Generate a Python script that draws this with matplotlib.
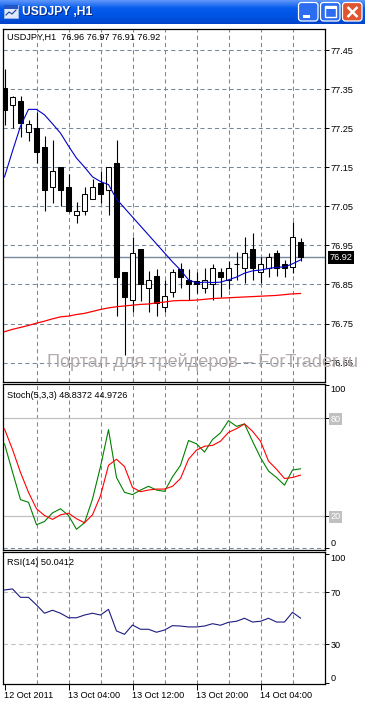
import numpy as np
import matplotlib.pyplot as plt
from matplotlib.patches import Rectangle, FancyBboxPatch

plt.rcParams['font.family'] = ['Liberation Sans', 'DejaVu Sans']

window_title = "USDJPY ,H1"
main_title = "USDJPY,H1  76.96 76.97 76.91 76.92"
stoch_title = "Stoch(5,3,3) 48.8372 44.9726"
rsi_title = "RSI(14) 50.0412"
watermark = "Портал для трейдеров – ForTrader.ru"

# hourly candles, 12 Oct 20:00 .. 14 Oct 09:00
opens = [77.353, 77.309, 77.320, 77.241, 77.250, 77.202, 77.099, 77.150, 77.099, 77.029,
         77.039, 77.069, 77.110, 77.092, 77.161, 76.881, 76.810, 76.940, 76.840, 76.872,
         76.792, 76.830, 76.891, 76.862, 76.860, 76.840, 76.851, 76.881, 76.862, 76.902,
         76.892, 76.940, 76.882, 76.892, 76.932, 76.902, 76.894, 76.96]
highs = [77.402, 77.332, 77.332, 77.272, 77.293, 77.231, 77.221, 77.150, 77.132, 77.062,
         77.101, 77.121, 77.142, 77.150, 77.221, 76.881, 76.971, 76.940, 76.885, 76.891,
         76.862, 76.891, 76.904, 76.891, 76.881, 76.892, 76.902, 76.892, 76.911, 76.934,
         76.971, 76.983, 76.921, 76.932, 76.938, 76.913, 77.011, 76.97]
lows = [77.259, 77.250, 77.229, 77.219, 77.161, 77.039, 77.060, 77.050, 77.037, 77.008,
        77.028, 77.069, 77.058, 77.028, 76.769, 76.669, 76.780, 76.808, 76.780, 76.769,
        76.780, 76.819, 76.840, 76.810, 76.827, 76.827, 76.810, 76.819, 76.838, 76.862,
        76.853, 76.862, 76.853, 76.870, 76.872, 76.870, 76.880, 76.91]
closes = [77.297, 77.330, 77.263, 77.261, 77.190, 77.091, 77.140, 77.091, 77.039, 77.039,
          77.081, 77.099, 77.081, 77.150, 76.870, 76.819, 76.930, 76.850, 76.862, 76.802,
          76.820, 76.882, 76.870, 76.850, 76.851, 76.862, 76.892, 76.870, 76.892, 76.902,
          76.930, 76.892, 76.902, 76.920, 76.892, 76.892, 76.971, 76.92]

ma_fast = [77.126, 77.192, 77.256, 77.299, 77.299, 77.285, 77.262, 77.238, 77.205, 77.174,
           77.151, 77.126, 77.114, 77.106, 77.069, 77.046, 77.023, 77.000, 76.977, 76.954,
           76.931, 76.908, 76.887, 76.862, 76.854, 76.856, 76.855, 76.856, 76.862, 76.869,
           76.879, 76.885, 76.887, 76.891, 76.894, 76.895, 76.903, 76.913]
ma_slow = [76.729, 76.735, 76.740, 76.745, 76.751, 76.756, 76.762, 76.767, 76.769, 76.773,
           76.776, 76.781, 76.786, 76.790, 76.793, 76.795, 76.797, 76.799, 76.800, 76.803,
           76.805, 76.808, 76.809, 76.809, 76.810, 76.812, 76.814, 76.815, 76.816, 76.817,
           76.818, 76.819, 76.820, 76.821, 76.822, 76.824, 76.826, 76.827]

stoch_main = [64.2, 46.9, 29.9, 28.3, 14.5, 16.5, 21.8, 24.3, 20.2, 11.7,
              15.7, 30.3, 50.2, 72.9, 43.5, 34.4, 33.0, 35.8, 38.1, 35.8,
              35.0, 43.9, 51.0, 66.2, 64.2, 59.1, 66.8, 70.9, 78.4, 74.9,
              76.4, 65.8, 55.7, 47.5, 43.5, 38.8, 48.1, 48.8372]
stoch_signal = [73.3, 60.7, 46.6, 34.4, 24.3, 20.2, 17.8, 20.6, 21.6, 18.2,
                15.7, 20.6, 32.3, 51.0, 54.7, 50.2, 37.4, 34.8, 35.8, 36.4,
                36.4, 38.1, 42.9, 54.7, 60.3, 62.7, 63.2, 65.8, 71.2, 73.5,
                76.4, 71.9, 65.8, 53.6, 48.6, 42.9, 43.5, 44.9726]
rsi = [71.8, 72.6, 66.1, 66.1, 60.2, 53.8, 56.1, 53.8, 50.3, 50.3,
       52.4, 53.8, 52.4, 56.8, 40.1, 37.5, 44.7, 41.4, 41.4, 39.1,
       40.8, 44.2, 43.9, 43.2, 43.2, 43.9, 45.7, 44.5, 46.8, 47.6,
       49.9, 47.0, 47.6, 49.9, 47.0, 47.0, 54.5, 50.0412]

price_ticks = [77.45, 77.35, 77.25, 77.15, 77.05, 76.95, 76.85, 76.75, 76.65]
date_idx = [0, 8, 16, 24, 32]
date_labels = ["12 Oct 2011", "13 Oct 04:00", "13 Oct 12:00", "13 Oct 20:00", "14 Oct 04:00"]
grid_idx = list(range(4, 37, 4))

W, H = 365, 703
GRID = '#778899'
DASH = (0, (4, 3))
FS = 6.6

fig = plt.figure(figsize=(W / 100, H / 100), dpi=100)
fig.patch.set_facecolor('white')


def rect(top, bottom, left=3.3, right=324.5):
    return [left / W, 1 - bottom / H, (right - left) / W, (bottom - top) / H]


ax_main = fig.add_axes(rect(29, 381.7))
ax_sto = fig.add_axes(rect(384, 550))
ax_rsi = fig.add_axes(rect(552.3, 683.7))

x = np.arange(len(closes))
for ax in (ax_main, ax_sto, ax_rsi):
    ax.set_xlim(-0.15, 40.0)
    for s in ax.spines.values():
        s.set_linewidth(0.9)
        s.set_color('black')
    for g in grid_idx:
        ax.axvline(g, color=GRID, lw=0.75, ls=DASH, zorder=0)
    ax.yaxis.tick_right()
    ax.tick_params(axis='y', direction='out', length=3, width=0.7, pad=1.5, labelsize=FS)

# --- price panel
ax_main.set_ylim(76.6008, 77.505)
for p in price_ticks:
    ax_main.axhline(p, color=GRID, lw=0.75, ls=DASH, zorder=0)
ax_main.axhline(closes[-1], color=GRID, lw=1.0, zorder=1)

o = np.array(opens)
c = np.array(closes)
body_lo = np.minimum(o, c)
body_h = np.abs(c - o)
fills = ['white' if cc >= oo else 'black' for oo, cc in zip(o, c)]
ax_main.vlines(x, lows, highs, color='black', lw=0.8, zorder=2)
ax_main.bar(x, body_h, bottom=body_lo, width=0.55, color=fills, edgecolor='black',
            linewidth=0.75, zorder=3)
ax_main.plot(x, ma_slow, color='#ff0000', lw=0.9, zorder=4)
ax_main.plot(x, ma_fast, color='#0000cc', lw=0.8, zorder=4)

ax_main.set_xticks([])
ax_main.set_yticks(price_ticks, labels=[f"{p:.2f}" for p in price_ticks])
ax_main.annotate(main_title, xy=(0, 1), xycoords='axes fraction', xytext=(4, -8),
                 textcoords='offset pixels', va='center', ha='left', fontsize=FS)
ax_main.annotate(f"{closes[-1]:.2f}", xy=(1, closes[-1]), xycoords=ax_main.get_yaxis_transform(),
                 xytext=(5, 0), textcoords='offset pixels', va='center', ha='left',
                 fontsize=FS, color='white',
                 bbox=dict(boxstyle='square,pad=0.2', fc='black', ec='none'))

# --- stochastic panel
ax_sto.set_ylim(-1, 100.9)
ax_sto.axhline(0, color=GRID, lw=0.75, ls=DASH, zorder=0)
for lvl in (20, 80):
    ax_sto.axhline(lvl, color='#c0c0c0', lw=0.9, zorder=1)
ax_sto.plot(x, stoch_main, color='#008000', lw=0.8, zorder=3)
ax_sto.plot(x, stoch_signal, color='#ff0000', lw=0.8, zorder=3)
ax_sto.set_xticks([])
ax_sto.set_yticks([100, 80, 20, 0], labels=['100', '80', '20', '0'])
for lbl in ax_sto.get_yticklabels():
    t = lbl.get_text()
    if t in ('80', '20'):
        lbl.set_color('white')
        lbl.set_bbox(dict(boxstyle='square,pad=0.15', fc='#c0c0c0', ec='none'))
    elif t == '100':
        lbl.set_va('top')
    else:
        lbl.set_va('bottom')
ax_sto.annotate(stoch_title, xy=(0, 1), xycoords='axes fraction', xytext=(4, -11),
                textcoords='offset pixels', va='center', ha='left', fontsize=FS)

# --- RSI panel
ax_rsi.set_ylim(-0.7, 100.93)
for lvl in (30, 70):
    ax_rsi.axhline(lvl, color='#c0c0c0', lw=0.8, ls=(0, (4, 3)), zorder=1)
ax_rsi.plot(x, rsi, color='#1c1c80', lw=0.8, zorder=3)
ax_rsi.set_yticks([100, 70, 30, 0], labels=['100', '70', '30', '0'])
for lbl in ax_rsi.get_yticklabels():
    if lbl.get_text() == '100':
        lbl.set_va('top')
    elif lbl.get_text() == '0':
        lbl.set_va('bottom')
ax_rsi.set_xticks(date_idx, labels=date_labels)
ax_rsi.tick_params(axis='x', direction='out', length=4, width=0.7, pad=1.5, labelsize=FS)
for lbl in ax_rsi.get_xticklabels():
    lbl.set_ha('left')
ax_rsi.annotate(rsi_title, xy=(0, 1), xycoords='axes fraction', xytext=(4, -10),
                textcoords='offset pixels', va='center', ha='left', fontsize=FS)

# watermark
fig.text(47 / W, 1 - 361.7 / H, watermark, color='#b4abab', fontsize=13.1,
         va='center', ha='left')

# --- window title bar
tb = fig.add_axes([0, 1 - 24 / H, 1, 24 / H])
tb.set_xlim(0, W)
tb.set_ylim(24, 0)
tb.axis('off')
stops = np.array([[0.36, 0.58, 0.98], [0.02, 0.36, 0.93], [0.0, 0.33, 0.90], [0.0, 0.27, 0.80]])
pos = np.linspace(0, 1, len(stops))
t = np.linspace(0, 1, 24)
grad = np.stack([np.interp(t, pos, stops[:, k]) for k in range(3)], axis=-1)[:, None, :]
tb.imshow(grad, extent=(0, W, 24, 0), aspect='auto', zorder=0)

tb.add_patch(Rectangle((4, 5), 14, 13, fc='#dfe9fb', ec='#9fb8e6', lw=0.6, zorder=1))
tb.add_patch(Rectangle((4, 5), 14, 3.5, fc='#2355c5', ec='none', zorder=2))
tb.plot([6, 9, 12, 16], [15, 12, 14, 10], color='#1a3fa0', lw=0.8, zorder=3)
tb.text(23, 13.3, window_title, color='#0a2a80', fontsize=8.7, fontweight='bold',
        va='center', ha='left', zorder=2)
tb.text(22, 12.3, window_title, color='white', fontsize=8.7, fontweight='bold',
        va='center', ha='left', zorder=3)

for bx, face in ((298.5, '#2c6cf0'), (320.5, '#2c6cf0'), (342.5, '#e0552f')):
    tb.add_patch(FancyBboxPatch((bx, 2.5), 19.5, 18.5,
                                boxstyle='round,pad=0,rounding_size=3',
                                fc=face, ec='white', lw=0.9, zorder=2))
tb.add_patch(Rectangle((303, 14.5), 7, 3, fc='white', ec='none', zorder=3))
tb.add_patch(Rectangle((324.5, 6), 11.5, 11, fill=False, ec='white', lw=1.0, zorder=3))
tb.add_patch(Rectangle((324.5, 6), 11.5, 2.5, fc='white', ec='none', zorder=3))
tb.plot([347.5, 357.5], [7, 17], color='white', lw=1.8, zorder=3, solid_capstyle='butt')
tb.plot([347.5, 357.5], [17, 7], color='white', lw=1.8, zorder=3, solid_capstyle='butt')

fig.savefig('out.png', dpi=100)
